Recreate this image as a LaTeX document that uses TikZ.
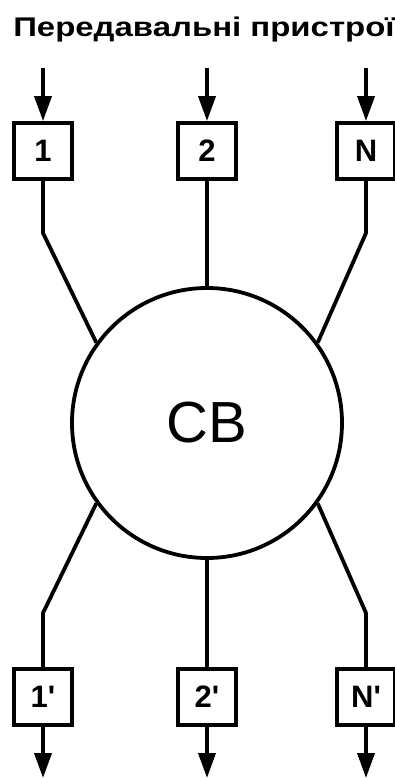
\documentclass[tikz,border=0pt]{standalone}
\usepackage{fontspec}
\setmainfont{Liberation Sans}
\newfontfamily\boxfont{Liberation Sans}
\usetikzlibrary{arrows.meta}
\begin{document}
\begin{tikzpicture}[x=1pt,y=-1pt,
  ln/.style={line width=3.8pt},
  box/.style={draw,line width=3.8pt,minimum width=58pt,minimum height=56pt,inner sep=0pt,font=\boxfont\fontsize{31}{31}\selectfont\bfseries},
  arr/.style={ln,-{Triangle[length=25pt,width=17pt]}}]
\useasboundingbox (0,0) rectangle (395,778);
\node[font=\fontsize{27}{27}\selectfont\bfseries,inner sep=0pt,anchor=base] (title) at (204,37) {\scalebox{1.22}[1]{Передавальні пристрої}};
% top boxes
\node[box] (b1) at (43,151) {1};
\node[box] (b2) at (207,151) {2};
\node[box] (bN) at (366,151) {N};
% bottom boxes
\node[box] (c1) at (43,697) {1'};
\node[box] (c2) at (207,697) {2'};
\node[box] (cN) at (366,697) {N'};
% circle
\node[draw,circle,line width=3.8pt,minimum size=270pt,inner sep=0pt,font=\fontsize{58}{58}\selectfont] (cb) at (207,423) {CB};
% input arrow starts
\coordinate (i1) at (43,68);
\coordinate (i2) at (207,68);
\coordinate (iN) at (366,68);
\coordinate (o1) at (43,778);
\coordinate (o2) at (207,778);
\coordinate (oN) at (366,778);
\draw[arr] (i1) -- (b1);
\draw[arr] (i2) -- (b2);
\draw[arr] (iN) -- (bN);
\draw[arr] (c1) -- (o1);
\draw[arr] (c2) -- (o2);
\draw[arr] (cN) -- (oN);
% bends
\coordinate (k1) at (43,233);
\coordinate (kN) at (366,233);
\coordinate (m1) at (43,613);
\coordinate (mN) at (366,613);
\draw[ln,line join=round] (b1.south) -- (k1) -- (cb.144);
\draw[ln] (b2.south) -- (cb.north);
\draw[ln,line join=round] (bN.south) -- (kN) -- (cb.36);
\draw[ln,line join=round] (cb.216) -- (m1) -- (c1.north);
\draw[ln] (cb.south) -- (c2.north);
\draw[ln,line join=round] (cb.324) -- (mN) -- (cN.north);
\end{tikzpicture}
\end{document}
